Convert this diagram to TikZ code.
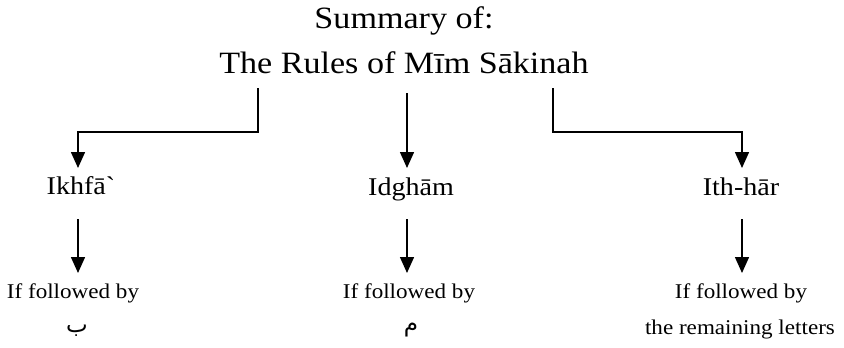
\documentclass[tikz,border=0pt]{standalone}
\usepackage{fontspec}
\setmainfont{Liberation Serif}[FakeStretch=1.1]
% same face without the TeX quote mapping, for a plain grave mark
\newfontfamily\gravefont{Liberation Serif}[FakeStretch=1.1]
\newfontfamily\arabicfont[Script=Arabic]{DejaVu Sans}
\TeXXeTstate=1
\usetikzlibrary{arrows.meta}
\begin{document}
\begin{tikzpicture}[x=1pt,y=-1pt,
  titletext/.style={anchor=base,inner sep=0pt,font=\fontsize{31}{36}\selectfont},
  ruletext/.style={anchor=base,inner sep=0pt,font=\fontsize{25.5}{30}\selectfont},
  condtext/.style={anchor=base,inner sep=0pt,font=\fontsize{21}{24}\selectfont},
  lettertext/.style={anchor=base,inner sep=0pt,font=\arabicfont\fontsize{23}{26}\selectfont},
  link/.style={line width=1.5pt,-{Triangle[width=14pt,length=16pt]}}]
\useasboundingbox (0,0) rectangle (844,348);

% heading
\node[titletext] (title1) at (404,28) {Summary of:};
\node[titletext] (title2) at (404,73) {The Rules of Mīm Sākinah};

% the three rules
\node[ruletext] (ikhfa) at (81,194) {Ikhfā{\gravefont`}};
\node[ruletext] (idgham) at (411,195) {Idghām};
\node[ruletext] (ithhar) at (741,195) {Ith-hār};

% conditions
\node[condtext] (c1) at (73,298) {If followed by};
\node[condtext] (c2) at (409,298) {If followed by};
\node[condtext] (c3) at (741,298) {If followed by};
\node[lettertext] (l1) at (77,332) {\beginR ب\endR};
\node[lettertext] (l2) at (411,331) {\beginR م\endR};
\node[condtext] (l3) at (740,334) {the remaining letters};

% connector ends
\coordinate (s1) at (258,88);
\coordinate (s2) at (407,93);
\coordinate (s3) at (553,88);
\coordinate (e1) at (78,168);
\coordinate (e2) at (407,168);
\coordinate (e3) at (742,168);
\coordinate (u1) at (78,219);
\coordinate (u2) at (407,219);
\coordinate (u3) at (742,219);
\coordinate (d1) at (78,273);
\coordinate (d2) at (407,273);
\coordinate (d3) at (742,273);

% branches from the heading
\draw[link] (s1) -- (258,132) -| (e1);
\draw[link] (s2) -- (e2);
\draw[link] (s3) -- (553,132) -| (e3);

% rule to condition
\draw[link] (u1) -- (d1);
\draw[link] (u2) -- (d2);
\draw[link] (u3) -- (d3);
\end{tikzpicture}
\end{document}
